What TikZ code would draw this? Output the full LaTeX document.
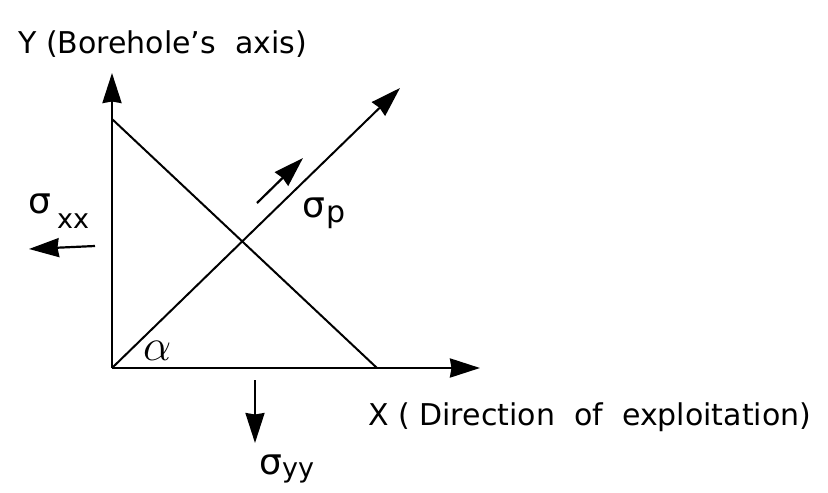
\documentclass[tikz,border=0pt]{standalone}
\usepackage{fontspec}
\setmainfont{DejaVu Sans}
\usetikzlibrary{arrows.meta}
\tikzset{
  axisline/.style={line width=2.6pt},
  diagline/.style={line width=2pt},
  bigarrow/.style={-{Stealth[length=30pt,width=19pt,inset=1.5pt]}},
  stressarrow/.style={line width=2.2pt,-{Stealth[length=30pt,width=19pt,inset=1.5pt]}},
  lbl/.style={inner sep=0pt,anchor=base west,font=\fontsize{30}{36}\selectfont},
}
\newcommand{\subfnt}{\fontsize{27}{32}\selectfont}
\newcommand{\sigfnt}{\fontsize{36}{40}\selectfont}
\begin{document}
\begin{tikzpicture}[x=1pt,y=-1pt]
\useasboundingbox (0,0) rectangle (828,493);
% key points
\coordinate (O) at (112,368);
\coordinate (Ytip) at (112,73);
\coordinate (Xtip) at (480,368);
\coordinate (Ytop) at (112,119);
\coordinate (Xhit) at (377,368);
\coordinate (Ptip) at (400,88);
\coordinate (Ps) at (257,203);
\coordinate (Pe) at (303,158);
\coordinate (XXs) at (95,246);
\coordinate (XXe) at (29,249);
\coordinate (YYs) at (255,380);
\coordinate (YYe) at (255,443);
% axes
\draw[axisline,bigarrow] (O) -- (Ytip);
\draw[axisline,bigarrow] (O) -- (Xtip);
% diagonals
\draw[diagline] (Ytop) -- (Xhit);
\draw[diagline,bigarrow] (O) -- (Ptip);
% stress arrows
\draw[stressarrow] (Ps) -- (Pe);
\draw[stressarrow] (XXs) -- (XXe);
\draw[stressarrow] (YYs) -- (YYe);
% labels
\node[lbl] (ylab) at (18,53) {Y (Borehole’s\ \ axis)};
\node[lbl] (xlab) at (368,425) {X ( Direction\ \ of\ \ exploitation)};
\node[lbl] (sxx) at (28,213) {{\sigfnt σ}\hspace{6pt}\raisebox{-15pt}{\subfnt xx}};
\node[lbl] (sp) at (302,217) {{\sigfnt σ}\hspace{1pt}\raisebox{-5pt}{p}};
\node[lbl] (syy) at (259,474) {{\sigfnt σ}\raisebox{-3pt}{\subfnt yy}};
\node[lbl] (alpha) at (143,360) {\scalebox{1.8}{$\alpha$}};
\end{tikzpicture}
\end{document}
